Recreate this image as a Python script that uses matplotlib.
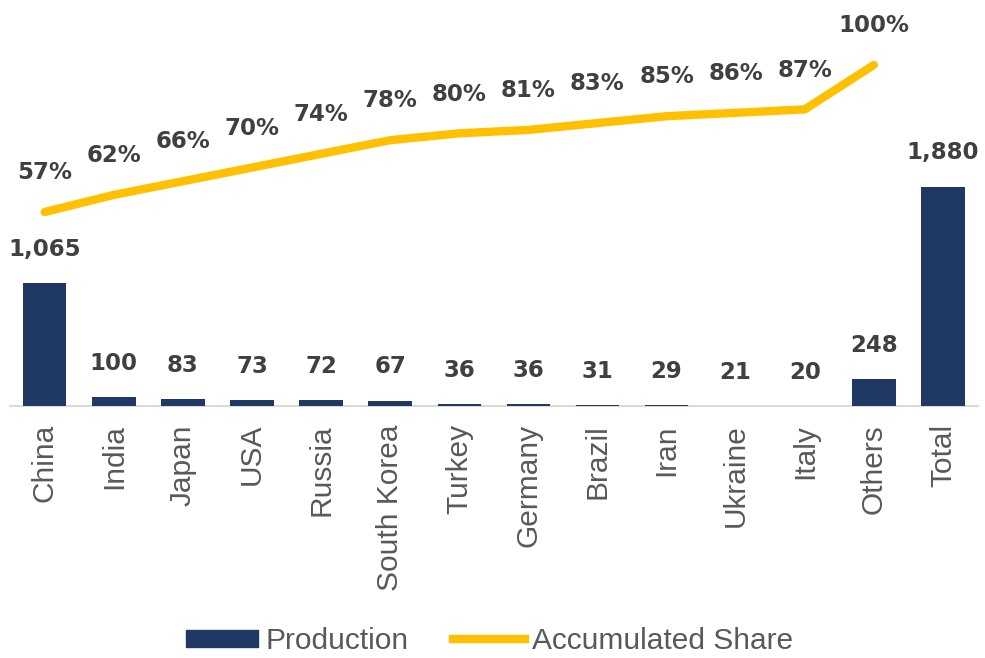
import matplotlib
matplotlib.use("Agg")
import matplotlib.pyplot as plt
from matplotlib.lines import Line2D
from matplotlib.patches import Patch

countries = ["China", "India", "Japan", "USA", "Russia", "South Korea", "Turkey",
             "Germany", "Brazil", "Iran", "Ukraine", "Italy", "Others", "Total"]
production = [1065, 100, 83, 73, 72, 67, 36, 36, 31, 29, 21, 20, 248, 1880]
share = [57, 62, 66, 70, 74, 78, 80, 81, 83, 85, 86, 87, 100]  # no point for Total

navy = "#203864"
gold = "#FFC000"
label_col = "#404040"
tick_col = "#595959"

fig = plt.figure(figsize=(9.85, 6.58), dpi=100)
ax = fig.add_axes([0.0103, 0.383, 0.9821, 0.587])
ax2 = ax.twinx()

x = list(range(len(countries)))
ax.bar(x, production, width=0.63, color=navy, zorder=3)
ax.set_xlim(-0.5, len(countries) - 0.5)
ymin = 22
ax.set_ylim(ymin, 3292)

for i, v in enumerate(production):
    ax.annotate(f"{v:,}", (i, max(v, ymin)), xytext=(0, 16), textcoords="offset points",
                ha="center", va="bottom", fontsize=16.5, fontweight="bold",
                color=label_col, family="DejaVu Sans")

ax2.plot(x[:len(share)], share, color=gold, lw=6, solid_capstyle="round",
         solid_joinstyle="round", zorder=3)
ax2.set_ylim(0.3, 113.2)
for i, s in enumerate(share):
    ax2.annotate(f"{s}%", (i, s), xytext=(0, 20), textcoords="offset points",
                 ha="center", va="bottom", fontsize=16.5, fontweight="bold",
                 color=label_col, family="DejaVu Sans")

for a in (ax, ax2):
    for side in ("top", "right", "left", "bottom"):
        a.spines[side].set_visible(False)
    a.set_yticks([])
ax.spines["bottom"].set_visible(True)
ax.spines["bottom"].set_color("#D9D9D9")
ax.spines["bottom"].set_linewidth(1.5)
ax.spines["bottom"].set_zorder(1)

ax.set_xticks(x)
ax.set_xticklabels(countries, rotation=90, fontsize=21.5, color=tick_col,
                   family="Liberation Sans")
ax.tick_params(axis="x", length=0, pad=13)

handles = [Patch(color=navy, label="Production"),
           Line2D([], [], color=gold, lw=6, label="Accumulated Share")]
fig.legend(handles=handles, loc="center", bbox_to_anchor=(0.497, 0.026), ncol=2,
           frameon=False, handlelength=2.4, handleheight=0.5, handletextpad=0.25,
           columnspacing=1.5, prop={"family": "Liberation Sans", "size": 21.5},
           labelcolor=tick_col)

fig.savefig("out.png", dpi=100, facecolor="white")
